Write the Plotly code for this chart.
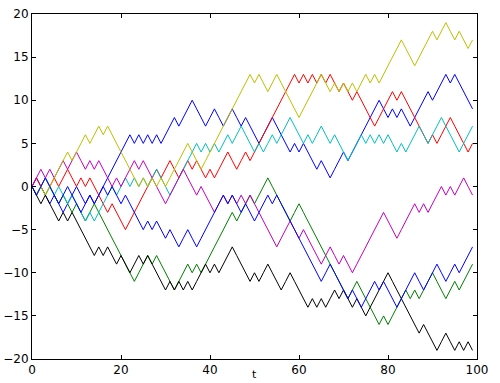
import plotly.graph_objects as go

t = list(range(100))

blue_a = [0,1,0,-1,-2,-1,-2,-3,-2,-1,
          0,-1,-2,-1,-2,-1,0,1,2,3,
          4,5,6,5,6,5,6,5,6,5,
          6,7,8,7,8,9,10,9,8,7,
          8,9,8,7,8,9,8,7,8,7,
          6,5,6,7,8,7,6,5,4,5,
          4,5,4,3,2,3,2,1,2,3,
          4,3,4,5,6,7,8,9,10,9,
          8,9,8,9,8,7,8,9,10,11,
          10,11,12,13,12,13,12,11,10,9]

green = [0,-1,0,-1,0,-1,-2,-1,-2,-3,
         -2,-3,-4,-3,-2,-3,-4,-5,-6,-7,
         -8,-9,-10,-11,-10,-9,-8,-9,-8,-9,
         -10,-11,-12,-11,-10,-9,-10,-9,-10,-9,
         -8,-7,-6,-5,-4,-3,-4,-3,-2,-1,
         -2,-1,0,1,0,-1,-2,-3,-4,-3,
         -2,-3,-4,-5,-6,-7,-8,-9,-10,-11,
         -12,-13,-12,-11,-12,-13,-14,-15,-16,-15,
         -16,-15,-14,-13,-12,-13,-12,-13,-12,-11,
         -10,-11,-12,-13,-12,-11,-12,-11,-10,-9]

red = [0,1,0,1,0,1,0,1,2,1,
       0,1,0,1,0,-1,-2,-3,-2,-3,
       -4,-5,-4,-3,-2,-1,0,1,2,1,
       2,3,2,1,2,3,2,3,2,1,
       2,1,2,3,4,3,2,3,4,3,
       4,5,6,7,8,9,10,11,12,13,
       12,13,12,13,12,13,12,13,12,11,
       12,11,10,11,10,9,8,7,8,9,
       10,11,10,11,10,9,8,7,6,5,
       6,5,6,7,8,7,6,5,4,5]

cyan = [0,-1,0,1,0,-1,0,-1,-2,-1,
        -2,-3,-4,-3,-4,-3,-2,-1,0,-1,
        0,1,0,1,0,1,0,1,2,1,
        0,-1,0,1,2,3,4,5,4,5,
        4,5,4,5,6,5,6,7,6,5,
        4,5,4,5,6,5,6,7,8,7,
        6,5,6,5,6,7,6,5,6,5,
        4,3,4,5,6,5,6,5,6,5,
        6,5,4,5,4,5,6,7,6,5,
        6,7,8,7,6,5,4,5,6,7]

magenta = [0,1,2,1,2,1,2,3,2,3,
           4,3,2,3,2,3,2,1,0,1,
           0,1,2,3,2,3,2,1,0,-1,
           -2,-1,0,1,2,1,0,-1,0,-1,
           -2,-3,-2,-1,-2,-1,-2,-1,-2,-1,
           -2,-3,-4,-5,-6,-7,-6,-5,-4,-5,
           -6,-5,-6,-7,-8,-9,-8,-7,-8,-9,
           -8,-9,-10,-9,-8,-7,-6,-5,-4,-3,
           -4,-5,-6,-5,-4,-3,-2,-3,-2,-3,
           -2,-1,0,-1,0,-1,0,1,0,-1]

yellow = [0,-1,0,-1,0,1,2,3,4,3,
          4,5,6,5,6,7,6,7,6,5,
          4,3,2,1,0,1,0,1,0,1,
          0,1,2,3,4,5,4,3,2,3,
          4,5,6,7,8,9,10,11,12,13,
          12,13,12,11,12,13,12,11,10,9,
          8,9,10,11,12,13,12,11,12,11,
          12,11,12,11,12,13,12,13,12,13,
          14,15,16,17,16,15,14,15,16,17,
          18,17,18,19,18,17,18,17,16,17]

black = [0,-1,-2,-1,-2,-3,-4,-3,-4,-3,
         -4,-5,-6,-7,-8,-7,-8,-7,-8,-9,
         -8,-9,-10,-9,-8,-9,-8,-9,-10,-11,
         -12,-11,-12,-11,-12,-11,-12,-11,-10,-9,
         -10,-9,-10,-9,-8,-7,-8,-9,-10,-11,
         -10,-11,-10,-9,-10,-11,-12,-11,-10,-11,
         -12,-13,-14,-13,-14,-13,-14,-13,-12,-13,
         -12,-13,-14,-13,-14,-15,-14,-13,-12,-11,
         -10,-11,-12,-13,-14,-15,-16,-17,-16,-17,
         -18,-19,-18,-17,-18,-19,-18,-19,-18,-19]

blue_b = [0,-1,0,1,0,-1,-2,-1,0,-1,
          -2,-3,-2,-1,-2,-1,0,-1,0,-1,
          -2,-1,-2,-3,-4,-5,-4,-5,-4,-5,
          -6,-5,-6,-7,-6,-5,-6,-7,-6,-5,
          -4,-3,-2,-1,-2,-1,-2,-3,-2,-3,
          -4,-3,-2,-1,-2,-1,-2,-3,-4,-5,
          -6,-7,-8,-9,-10,-11,-10,-9,-10,-11,
          -12,-13,-12,-13,-14,-13,-12,-11,-12,-11,
          -12,-13,-14,-13,-12,-11,-10,-11,-12,-11,
          -10,-9,-10,-11,-10,-9,-10,-9,-8,-7]

series = [blue_a, green, red, cyan, magenta, yellow, black, blue_b]
colors = ["#0000ff", "#008000", "#ff0000", "#00bfbf", "#bf00bf", "#bfbf00", "#000000", "#0000ff"]

x_ticks = [0, 20, 40, 60, 80, 100]
y_ticks = [-20, -15, -10, -5, 0, 5, 10, 15, 20]

fig = go.Figure()
for vals, col in zip(series, colors):
    fig.add_trace(go.Scatter(x=t, y=vals, mode="lines",
                             line=dict(color=col, width=1), showlegend=False,
                             hoverinfo="skip"))

axis_common = dict(showgrid=False, zeroline=False, showline=True, linecolor="black",
                   linewidth=1, mirror="ticks", ticks="inside", ticklen=4,
                   tickcolor="black", tickwidth=1, automargin=False,
                   tickfont=dict(family="DejaVu Sans", size=12, color="black"))

fig.update_layout(
    width=500, height=383,
    margin=dict(l=31.5, r=22.5, t=14, b=24),
    paper_bgcolor="white", plot_bgcolor="white",
    xaxis=dict(range=[0, 100], tickvals=x_ticks, **axis_common),
    yaxis=dict(range=[-20, 20], tickvals=y_ticks, **axis_common),
    annotations=[dict(text="t", x=0.5, y=-0.0696, xref="paper", yref="paper",
                      xanchor="center", yanchor="bottom", showarrow=False,
                      font=dict(family="DejaVu Sans", size=11, color="black"))],
)

fig.write_html("out.html")
